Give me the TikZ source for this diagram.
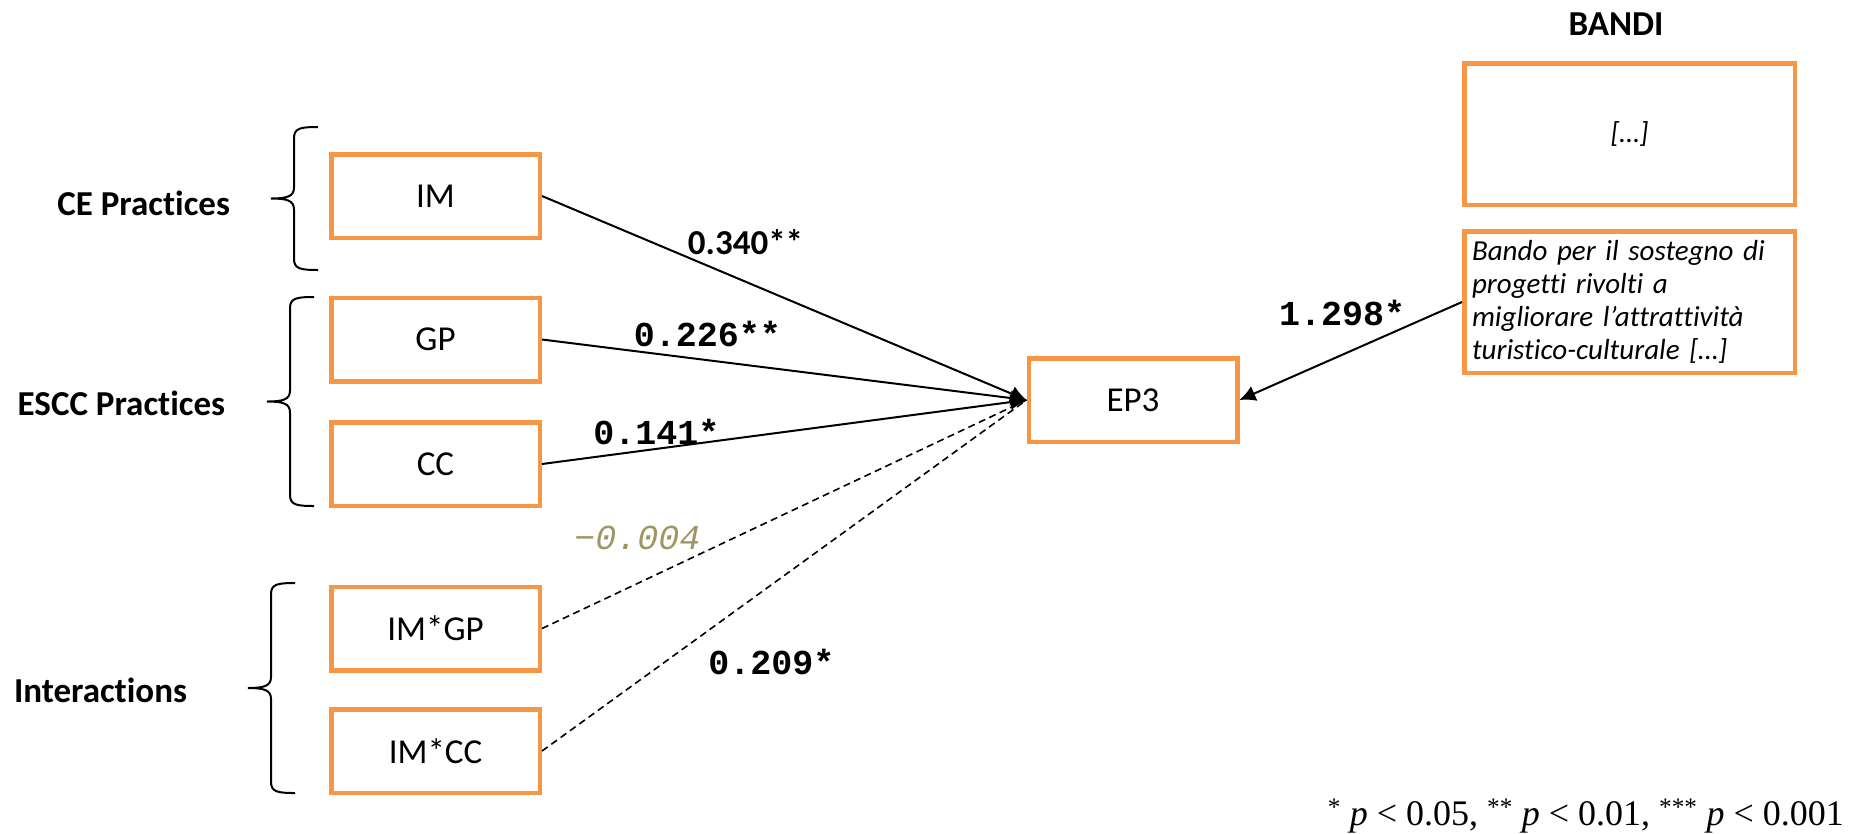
\documentclass[tikz,border=0pt]{standalone}
\usepackage{fontspec}
\setmainfont[Ligatures=CommonOff]{Carlito}
\newfontfamily\coefmono{Liberation Mono}
\newfontfamily\notefont{Liberation Serif}
\usetikzlibrary{arrows.meta,positioning}
\definecolor{boxorange}{HTML}{F79646}
\definecolor{nscoef}{RGB}{160,150,100}

\begin{document}
\begin{tikzpicture}[x=1pt, y=-1pt,
var/.style = {rectangle, draw=boxorange, line width=4.5pt, minimum width=208.5pt,
              minimum height=83.5pt, inner sep=0pt, font=\fontsize{35}{42}\selectfont},
bando/.style = {var, minimum width=330.5pt, minimum height=141.5pt,
                font=\fontsize{29}{33}\selectfont\itshape},
group/.style = {font=\fontsize{35}{42}\selectfont\bfseries, inner sep=0pt},
coef/.style = {font=\fontsize{35}{42}\selectfont\coefmono\bfseries, inner sep=0pt},
effect/.style = {draw, line width=2pt, -{Latex[length=16pt,width=16pt]}},
interact/.style = {draw, line width=1.6pt, dash pattern=on 7pt off 4.5pt},
grouping/.style = {draw, line width=2pt}]

\useasboundingbox (0,0) rectangle (1851,833);

% predictors and outcome
\node[var] (im) at (435.5,196) {IM};
\node[var] (gp) at (435.5,339.5) {GP};
\node[var] (cc) at (435.5,464) {CC};
\node[var] (imgp) at (435.5,628.5) {IM*GP};
\node[var] (imcc) at (435.5,751) {IM*CC};
\node[var] (ep) at (1133,400) {EP3};

% bandi
\node[group] (bandi) at (1616,24) {BANDI};
\node[bando] (other) at (1629.5,134) {[…]};
\node[bando, text width=315pt, align=left] (call) at (1629.5,302)
  {Bando per il sostegno di\\ progetti rivolti a\\
  migliorare l’attrattività\\ turistico-culturale […]};

% groups
\node[group] (ce) at (143.7,203) {CE Practices};
\node[group] (escc) at (121.4,403) {ESCC Practices};
\node[group] (inter) at (100.5,690) {Interactions};
\foreach \xe/\yt/\yb in {318/127/270, 314/297/506, 295/583/793}{
  \pgfmathsetmacro\ym{(\yt+\yb)/2}
  \path[grouping] (\xe,\yt) .. controls ({\xe-17},\yt) and ({\xe-24},{\yt+1}) .. ({\xe-24},{\yt+11})
    -- ({\xe-24},{\ym-11}) .. controls ({\xe-24},{\ym-2}) and ({\xe-31},\ym) .. ({\xe-47},\ym)
    .. controls ({\xe-31},\ym) and ({\xe-24},{\ym+2}) .. ({\xe-24},{\ym+11})
    -- ({\xe-24},{\yb-11}) .. controls ({\xe-24},{\yb-1}) and ({\xe-17},\yb) .. (\xe,\yb);
}

% effects
\path[effect] (im.east) -- (ep.west);
\path[effect] (gp.east) -- (ep.west);
\path[effect] (cc.east) -- (ep.west);
\path[interact] (imgp.east) -- (ep.west);
\path[interact] (imcc.east) -- (ep.west);
\path[effect] (call.west) -- (ep.east);

% coefficients
\node[coef, font=\fontsize{35}{42}\selectfont\bfseries] (b1) at (745.5,242) {0.340**};
\node[coef] (b2) at (707.5,334) {0.226**};
\node[coef] (b3) at (656.5,432) {0.141*};
\node[coef, text=nscoef, font=\fontsize{35}{42}\selectfont\coefmono\itshape] (b4) at (637.5,537.5) {−0.004};
\node[coef] (b5) at (771.4,662) {0.209*};
\node[coef] (b6) at (1342,313) {1.298*};

\node[font=\fontsize{36}{42}\selectfont\notefont, anchor=base east, inner sep=0pt] (note) at (1844,825)
  {\textsuperscript{*}~\textit{p} < 0.05, \textsuperscript{**}~\textit{p} < 0.01, \textsuperscript{***}~\textit{p} < 0.001};
\end{tikzpicture}
\end{document}
